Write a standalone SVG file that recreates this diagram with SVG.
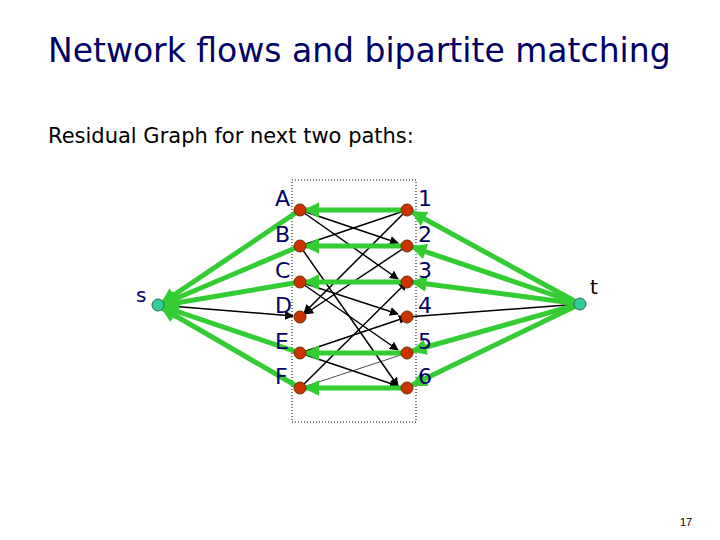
<svg xmlns="http://www.w3.org/2000/svg" width="720" height="540" viewBox="0 0 720 540">
<style>
.t{font-family:"DejaVu Sans",sans-serif;fill:#000066}
.g{stroke:#33cc33;stroke-width:5;fill:none;marker-end:url(#ga)}
.b{stroke:#000;stroke-width:1.5;fill:none;marker-end:url(#ba)}
.n{fill:#cc3300;stroke:#663300;stroke-width:1}
.st{fill:#33cc99;stroke:#336666;stroke-width:1}
</style>
<defs>
<marker id="ga" viewBox="0 0 10 10" refX="9" refY="5" markerWidth="3.2" markerHeight="3.2" orient="auto"><path d="M0,0L10,5L0,10z" fill="#33cc33"/></marker>
<marker id="ba" viewBox="0 0 10 10" refX="9" refY="5" markerWidth="6" markerHeight="6" orient="auto"><path d="M0,0L10,5L0,10z" fill="#000"/></marker>
</defs>
<rect width="720" height="540" fill="#fff"/>
<text class="t" x="48" y="62" font-size="33">Network flows and bipartite matching</text>
<text class="t" x="48" y="143" font-size="21" style="fill:#000">Residual Graph for next two paths:</text>
<rect x="292" y="180" width="124" height="242" fill="none" stroke="#000" stroke-width="1" stroke-dasharray="1,2"/>
<g id="connectors">
<path class="b" d="M300,210L398,243"/>
<path class="b" d="M300,210L398,279"/>
<path class="b" d="M300,246L398,386"/>
<path class="b" d="M300,282L398,314"/>
<path class="b" d="M300,282L398,350"/>
<path class="b" d="M407,210L304,313"/>
<path class="b" d="M407,246L305,314"/>
<path class="b" d="M300,353L407,317"/>
<path class="b" d="M300,353L398,386"/>
<path class="b" d="M300,388L407,282"/>
<path d="M300,388L407,353" stroke="#000" stroke-width="0.7"/>
<path d="M300,246L407,210" stroke="#000" stroke-width="1.5"/>
<path class="b" d="M158,305L293,316"/>
<path d="M407,317L580,304" stroke="#000" stroke-width="1.5"/>
<path class="g" d="M300,210L162,303"/>
<path class="g" d="M300,246L163,304"/>
<path class="g" d="M300,282L164,305"/>
<path class="g" d="M300,353L164,307"/>
<path class="g" d="M300,388L162,308"/>
<path class="g" d="M407,210L305,210"/>
<path class="g" d="M407,246L305,246"/>
<path class="g" d="M407,282L305,282"/>
<path class="g" d="M407,353L305,353"/>
<path class="g" d="M407,388L305,388"/>
<path class="g" d="M580,304L412,212"/>
<path class="g" d="M580,304L412,247"/>
<path class="g" d="M580,304L412,282"/>
<path class="g" d="M580,304L412,351"/>
<path class="g" d="M580,304L412,385"/>
</g>
<g id="s"><circle class="st" cx="158" cy="305" r="6"/><text class="t" x="136" y="302" font-size="20">s</text></g>
<g id="t"><circle class="st" cx="580" cy="304" r="6"/><text class="t" x="590" y="294" font-size="20" style="fill:#000">t</text></g>
<g id="A"><circle class="n" cx="300" cy="210" r="6"/><text class="t" x="275" y="206" font-size="22">A</text></g>
<g id="B"><circle class="n" cx="300" cy="246" r="6"/><text class="t" x="275" y="242" font-size="22">B</text></g>
<g id="C"><circle class="n" cx="300" cy="282" r="6"/><text class="t" x="275" y="278" font-size="22">C</text></g>
<g id="D"><circle class="n" cx="300" cy="317" r="6"/><text class="t" x="275" y="313" font-size="22">D</text></g>
<g id="E"><circle class="n" cx="300" cy="353" r="6"/><text class="t" x="275" y="349" font-size="22">E</text></g>
<g id="F"><circle class="n" cx="300" cy="388" r="6"/><text class="t" x="275" y="384" font-size="22">F</text></g>
<g id="n1"><circle class="n" cx="407" cy="210" r="6"/><text class="t" x="418" y="206" font-size="22">1</text></g>
<g id="n2"><circle class="n" cx="407" cy="246" r="6"/><text class="t" x="418" y="242" font-size="22">2</text></g>
<g id="n3"><circle class="n" cx="407" cy="282" r="6"/><text class="t" x="418" y="278" font-size="22">3</text></g>
<g id="n4"><circle class="n" cx="407" cy="317" r="6"/><text class="t" x="418" y="313" font-size="22">4</text></g>
<g id="n5"><circle class="n" cx="407" cy="353" r="6"/><text class="t" x="418" y="349" font-size="22">5</text></g>
<g id="n6"><circle class="n" cx="407" cy="388" r="6"/><text class="t" x="418" y="384" font-size="22">6</text></g>
<text x="680" y="526" font-size="11" font-family="Liberation Sans,sans-serif">17</text>
</svg>
